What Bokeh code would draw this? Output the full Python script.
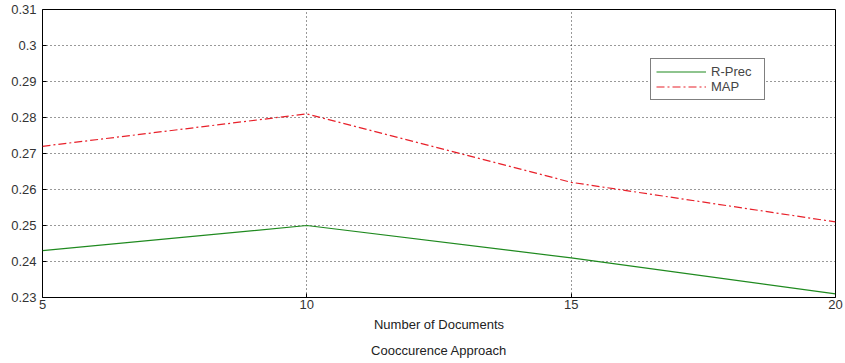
from bokeh.plotting import figure
from bokeh.models import Legend, LegendItem, Title, FixedTicker, Range1d
from bokeh.embed import file_html
from bokeh.resources import INLINE

docs = [5, 10, 15, 20]
r_prec = [0.243, 0.250, 0.241, 0.231]
map_vals = [0.272, 0.281, 0.262, 0.251]
y_ticks = [0.23, 0.24, 0.25, 0.26, 0.27, 0.28, 0.29, 0.30, 0.31]
y_labels = {0.23: "0.23", 0.24: "0.24", 0.25: "0.25", 0.26: "0.26", 0.27: "0.27",
            0.28: "0.28", 0.29: "0.29", 0.30: "0.3", 0.31: "0.31"}

FONT = "Liberation Sans"
FS = "13px"

p = figure(width=845, height=363, output_backend="svg", toolbar_location=None,
           x_range=Range1d(5, 20), y_range=Range1d(0.23, 0.31),
           min_border_top=9, min_border_right=10, min_border_left=42, min_border_bottom=65)

l1 = p.line(docs, r_prec, line_color="#1f8a1f", line_width=1.2)
l2 = p.line(docs, map_vals, line_color="#e8202a", line_width=1.2, line_dash="8 3 2 3")

p.outline_line_color = "black"
p.outline_line_width = 1
p.background_fill_color = "white"
p.border_fill_color = "white"

xax = p.below[0]
yax = p.left[0]
for ax in (xax, yax):
    ax.axis_line_color = None
    ax.major_tick_in = 4
    ax.major_tick_out = 0
    ax.minor_tick_line_color = None
    ax.major_tick_line_color = "black"
    ax.major_label_text_font = FONT
    ax.major_label_text_font_size = FS
    ax.major_label_text_color = "#333333"

xax.major_label_standoff = 2
yax.major_label_standoff = 6
xax.ticker = FixedTicker(ticks=docs)
yax.ticker = FixedTicker(ticks=y_ticks)
yax.major_label_overrides = y_labels
xax.axis_label = "Number of Documents"
xax.axis_label_text_font = FONT
xax.axis_label_text_font_size = FS
xax.axis_label_text_font_style = "normal"
xax.axis_label_text_color = "#222222"
xax.axis_label_standoff = 5

p.xgrid.ticker = FixedTicker(ticks=[10, 15])
p.ygrid.ticker = FixedTicker(ticks=y_ticks[1:-1])
for g in (p.xgrid[0], p.ygrid[0]):
    g.grid_line_color = "black"
    g.grid_line_dash = "1 3"
    g.grid_line_alpha = 0.8

t = Title(text="Cooccurence Approach", align="center", text_font=FONT,
          text_font_size=FS, text_font_style="normal", text_color="#222222", standoff=12)
p.add_layout(t, "below")

legend = Legend(items=[LegendItem(label="R-Prec", renderers=[l1]),
                       LegendItem(label="MAP", renderers=[l2])],
                location=(608, 197), label_text_font=FONT, label_text_font_size=FS,
                glyph_width=50, glyph_height=13, padding=5, spacing=0, margin=0,
                label_standoff=5, label_height=13, label_width=48,
                border_line_color="black", border_line_width=1,
                background_fill_alpha=1)
p.add_layout(legend, "center")

open("out.html", "w").write(file_html(p, INLINE))
